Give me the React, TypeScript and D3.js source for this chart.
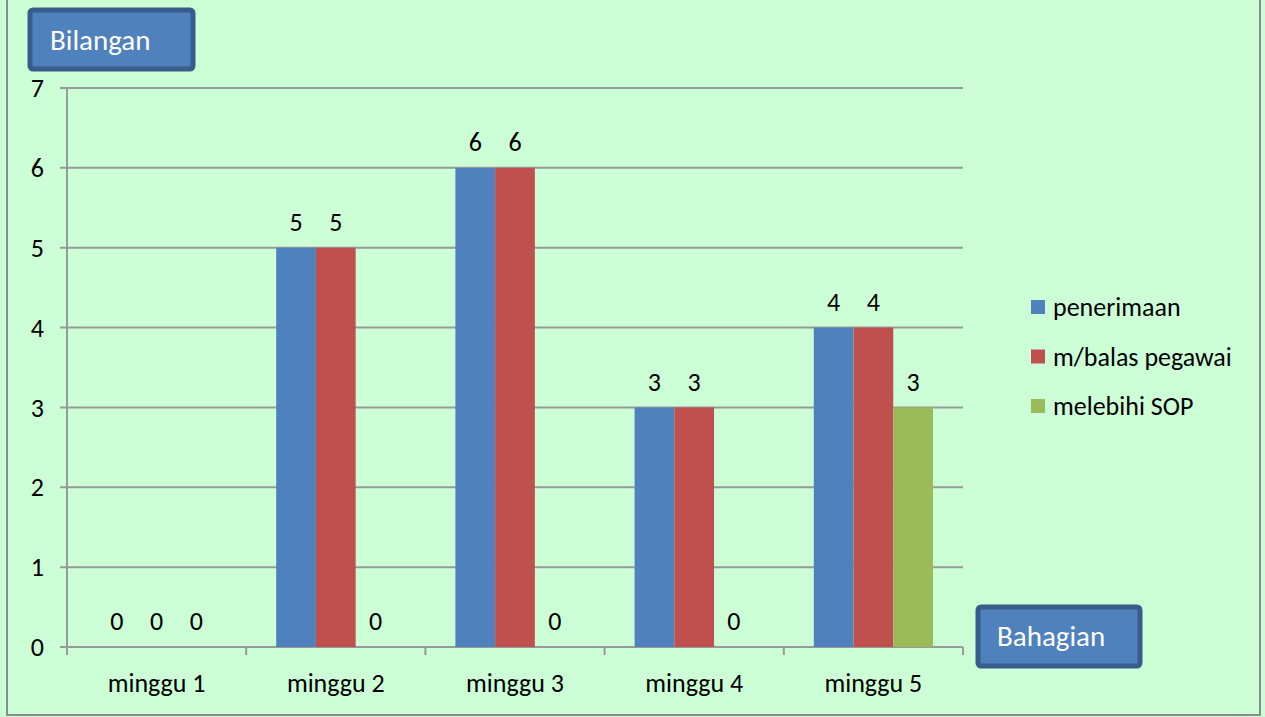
import React from "react";
import * as d3 from "d3";

const categories = ["minggu 1", "minggu 2", "minggu 3", "minggu 4", "minggu 5"];
const seriesNames = ["penerimaan", "m/balas pegawai", "melebihi SOP"];
const penerimaan = [0, 5, 6, 3, 4];
const mbalas = [0, 5, 6, 3, 4];
const melebihi = [0, 0, 0, 0, 3];
const yTicks = [0, 1, 2, 3, 4, 5, 6, 7];
const colors = ["#4F81BD", "#C0504D", "#9BBB59"];

const W = 1265;
const H = 717;
const font = "Carlito, Calibri, 'Open Sans', 'Noto Sans', sans-serif";

export default function App() {
  const series = [penerimaan, mbalas, melebihi];
  const left = 67, right = 963, top = 88, bottom = 647;
  const x = d3.scaleBand<string>().domain(categories).range([left, right]).paddingInner(0).paddingOuter(0);
  const inner = d3.scaleBand<string>().domain(seriesNames).range([30, x.bandwidth() - 30]).padding(0);
  const y = d3.scaleLinear().domain([0, 7]).range([bottom, top]);
  const grid = "#999999";
  return (
    <svg width={W} height={H} style={{ position: "absolute", left: 0, top: 0 }} fontFamily={font}>
      <rect x={0} y={0} width={W} height={H} fill="#CCFFD6" />
      <rect x={7} y={-3} width={1253} height={718} fill="none" stroke="#8C8C8C" strokeWidth={2} />
      {yTicks.map((t) => (
        <g key={t}>
          <line x1={60} x2={right} y1={y(t)} y2={y(t)} stroke={grid} strokeWidth={2} />
          <text x={44} y={y(t)} dy="0.35em" fontSize={26} textAnchor="end" fill="#000">{t}</text>
        </g>
      ))}
      <line x1={left} x2={left} y1={top} y2={bottom} stroke={grid} strokeWidth={2} />
      {d3.range(categories.length + 1).map((i) => {
        const xx = left + i * x.step();
        return <line key={i} x1={xx} x2={xx} y1={bottom} y2={bottom + 8} stroke={grid} strokeWidth={2} />;
      })}
      {categories.map((c, ci) => (
        <g key={c}>
          {series.map((s, si) => {
            const bx = (x(c) as number) + (inner(seriesNames[si]) as number);
            const v = s[ci];
            return (
              <g key={si}>
                {v > 0 && (
                  <rect x={bx} y={y(v)} width={inner.bandwidth()} height={y(0) - y(v)} fill={colors[si]} />
                )}
                <text x={bx + inner.bandwidth() / 2} y={y(v) - 26} dy="0.35em" fontSize={26} textAnchor="middle" fill="#000">{v}</text>
              </g>
            );
          })}
          <text x={(x(c) as number) + x.bandwidth() / 2} y={683} dy="0.35em" fontSize={26} textAnchor="middle" fill="#000">{c}</text>
        </g>
      ))}
      {seriesNames.map((n, i) => (
        <g key={n}>
          <rect x={1031} y={300 + i * 49.5} width={14} height={14} fill={colors[i]} />
          <text x={1053} y={307 + i * 49.5} dy="0.35em" fontSize={26} fill="#000">{n}</text>
        </g>
      ))}
      <rect x={30} y={10} width={163} height={59} rx={3} fill="#4F81BD" stroke="#385D8A" strokeWidth={5} />
      <text x={50} y={40} dy="0.35em" fontSize={29} fill="#fff">Bilangan</text>
      <rect x={978} y={607} width={162} height={59} rx={3} fill="#4F81BD" stroke="#385D8A" strokeWidth={5} />
      <text x={997} y={636} dy="0.35em" fontSize={29} fill="#fff">Bahagian</text>
    </svg>
  );
}
